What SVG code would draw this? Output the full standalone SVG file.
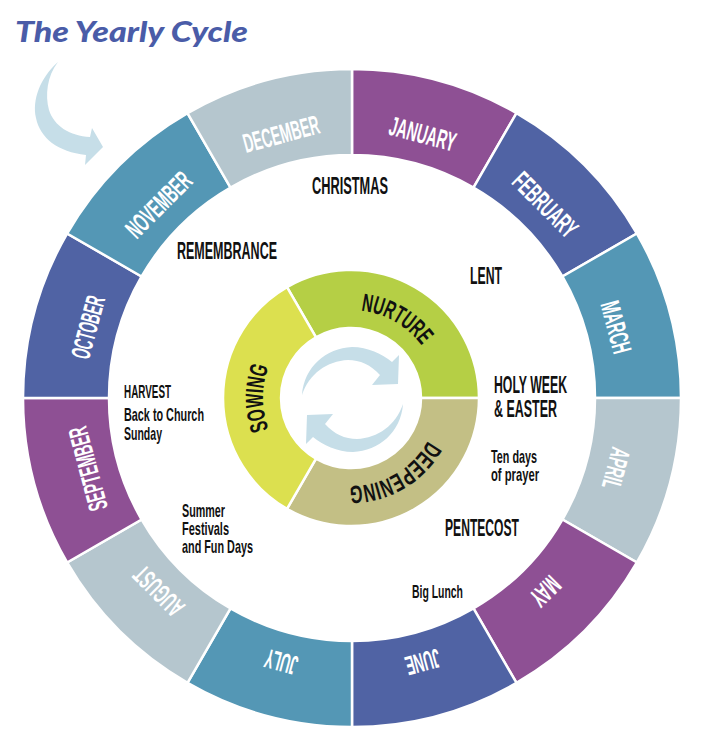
<svg xmlns="http://www.w3.org/2000/svg" width="711" height="750" viewBox="0 0 711 750">
<style>
.seg{stroke:#fff;stroke-width:2.5}
.c1{fill:#8e5094}.c2{fill:#5063a4}.c3{fill:#5497b5}.c4{fill:#b5c6ce}
.mon{font-family:"Liberation Sans Narrow","Liberation Sans",Arial,sans-serif;font-weight:bold;font-size:27px;fill:#fff;text-anchor:middle}
.ph{font-family:"Liberation Sans Narrow","Liberation Sans",Arial,sans-serif;font-weight:bold;font-size:25px;fill:#111;text-anchor:middle}
.ev{font-family:"Liberation Sans Narrow","Liberation Sans",Arial,sans-serif;font-weight:bold;font-size:23px;fill:#111}
.sm{font-family:"Liberation Sans Narrow","Liberation Sans",Arial,sans-serif;font-weight:bold;font-size:19px;fill:#111}
.arr{fill:#c6dee8}
</style>
<defs>
<path id="ring" d="M 351,310 A 88 88 0 1 1 351,486 A 88 88 0 1 1 351,310"/>
</defs>
<rect width="711" height="750" fill="#fff"/>

<g id="title">
<text x="15" y="42" font-family="Lato,'Open Sans',sans-serif" font-weight="900" font-style="italic" font-size="29" fill="#4a5ca8" textLength="233" lengthAdjust="spacingAndGlyphs">The Yearly Cycle</text>
</g>

<g id="connectors">
<path class="arr" d="M 58,62 C 40,78 32,100 36,118 C 40,138 58,152 86,155 L 85,165 L 103,147 L 92,128 L 90,137 C 70,136 54,126 49,110 C 45,95 47,76 58,62 Z"/>
<path class="arr" d="M 302,395 C 304,367 326,348 352,347 C 368,347 382,354 392,362 L 399,355 L 398,384 L 372,385 L 380,375 C 371,365 360,360 348,360 C 327,361 309,374 302,395 Z"/>
<path class="arr" transform="rotate(180 352.5 399.5)" d="M 302,395 C 304,367 326,348 352,347 C 368,347 382,354 392,362 L 399,355 L 398,384 L 372,385 L 380,375 C 371,365 360,360 348,360 C 327,361 309,374 302,395 Z"/>
</g>

<g id="january"><path class="seg c1" d="M 352,69 A 329 329 0 0 1 516.5,113.1 L 473.5,187.6 A 243 243 0 0 0 352,155 Z"/><text class="mon" x="352" y="134" transform="rotate(15 352 398)" textLength="68" lengthAdjust="spacingAndGlyphs">JANUARY</text></g>
<g id="february"><path class="seg c2" d="M 516.5,113.1 A 329 329 0 0 1 636.9,233.5 L 562.4,276.5 A 243 243 0 0 0 473.5,187.6 Z"/><text class="mon" x="352" y="134" transform="rotate(45 352 398)" textLength="80" lengthAdjust="spacingAndGlyphs">FEBRUARY</text></g>
<g id="march"><path class="seg c3" d="M 636.9,233.5 A 329 329 0 0 1 681,398 L 595,398 A 243 243 0 0 0 562.4,276.5 Z"/><text class="mon" x="352" y="134" transform="rotate(75 352 398)" textLength="53" lengthAdjust="spacingAndGlyphs">MARCH</text></g>
<g id="april"><path class="seg c4" d="M 681,398 A 329 329 0 0 1 636.9,562.5 L 562.4,519.5 A 243 243 0 0 0 595,398 Z"/><text class="mon" x="352" y="134" transform="rotate(105 352 398)" textLength="42" lengthAdjust="spacingAndGlyphs">APRIL</text></g>
<g id="may"><path class="seg c1" d="M 636.9,562.5 A 329 329 0 0 1 516.5,682.9 L 473.5,608.4 A 243 243 0 0 0 562.4,519.5 Z"/><text class="mon" x="352" y="134" transform="rotate(135 352 398)" textLength="31" lengthAdjust="spacingAndGlyphs">MAY</text></g>
<g id="june"><path class="seg c2" d="M 516.5,682.9 A 329 329 0 0 1 352,727 L 352,641 A 243 243 0 0 0 473.5,608.4 Z"/><text class="mon" x="352" y="134" transform="rotate(165 352 398)" textLength="35" lengthAdjust="spacingAndGlyphs">JUNE</text></g>
<g id="july"><path class="seg c3" d="M 352,727 A 329 329 0 0 1 187.5,682.9 L 230.5,608.4 A 243 243 0 0 0 352,641 Z"/><text class="mon" x="352" y="134" transform="rotate(195 352 398)" textLength="33" lengthAdjust="spacingAndGlyphs">JULY</text></g>
<g id="august"><path class="seg c4" d="M 187.5,682.9 A 329 329 0 0 1 67.1,562.5 L 141.6,519.5 A 243 243 0 0 0 230.5,608.4 Z"/><text class="mon" x="352" y="134" transform="rotate(225 352 398)" textLength="59" lengthAdjust="spacingAndGlyphs">AUGUST</text></g>
<g id="september"><path class="seg c1" d="M 67.1,562.5 A 329 329 0 0 1 23,398 L 109,398 A 243 243 0 0 0 141.6,519.5 Z"/><text class="mon" x="352" y="134" transform="rotate(255 352 398)" textLength="86" lengthAdjust="spacingAndGlyphs">SEPTEMBER</text></g>
<g id="october"><path class="seg c2" d="M 23,398 A 329 329 0 0 1 67.1,233.5 L 141.6,276.5 A 243 243 0 0 0 109,398 Z"/><text class="mon" x="352" y="134" transform="rotate(285 352 398)" textLength="64" lengthAdjust="spacingAndGlyphs">OCTOBER</text></g>
<g id="november"><path class="seg c3" d="M 67.1,233.5 A 329 329 0 0 1 187.5,113.1 L 230.5,187.6 A 243 243 0 0 0 141.6,276.5 Z"/><text class="mon" x="352" y="134" transform="rotate(315 352 398)" textLength="81" lengthAdjust="spacingAndGlyphs">NOVEMBER</text></g>
<g id="december"><path class="seg c4" d="M 187.5,113.1 A 329 329 0 0 1 352,69 L 352,155 A 243 243 0 0 0 230.5,187.6 Z"/><text class="mon" x="352" y="134" transform="rotate(345 352 398)" textLength="78" lengthAdjust="spacingAndGlyphs">DECEMBER</text></g>

<g id="nurture"><path class="seg" fill="#b5cf45" stroke-width="3" d="M 287,287.15 A 128 128 0 0 1 479,398 L 421,398 A 70 70 0 0 0 316,337.4 Z"/><text class="ph"><textPath href="#ring" startOffset="8.333%" textLength="72" lengthAdjust="spacingAndGlyphs">NURTURE</textPath></text></g>
<g id="deepening"><path class="seg" fill="#c3bf85" stroke-width="3" d="M 479,398 A 128 128 0 0 1 287,508.85 L 316,458.6 A 70 70 0 0 0 421,398 Z"/><text class="ph"><textPath href="#ring" startOffset="41.667%" textLength="95" lengthAdjust="spacingAndGlyphs">DEEPENING</textPath></text></g>
<g id="sowing"><path class="seg" fill="#dce04f" stroke-width="3" d="M 287,508.85 A 128 128 0 0 1 287,287.15 L 316,337.4 A 70 70 0 0 0 316,458.6 Z"/><text class="ph"><textPath href="#ring" startOffset="75%" textLength="64" lengthAdjust="spacingAndGlyphs">SOWING</textPath></text></g>

<g id="christmas"><text class="ev" x="312" y="194" textLength="76" lengthAdjust="spacingAndGlyphs">CHRISTMAS</text></g>
<g id="remembrance"><text class="ev" x="177" y="259" textLength="100" lengthAdjust="spacingAndGlyphs">REMEMBRANCE</text></g>
<g id="lent"><text class="ev" x="470" y="284" textLength="32" lengthAdjust="spacingAndGlyphs">LENT</text></g>
<g id="holy-week"><text class="ev" x="494" y="393" textLength="73" lengthAdjust="spacingAndGlyphs">HOLY WEEK</text><text class="ev" x="494" y="417" textLength="63" lengthAdjust="spacingAndGlyphs">&amp; EASTER</text></g>
<g id="ten-days"><text class="sm" x="491" y="463" textLength="46" lengthAdjust="spacingAndGlyphs">Ten days</text><text class="sm" x="491" y="481" textLength="48" lengthAdjust="spacingAndGlyphs">of prayer</text></g>
<g id="pentecost"><text class="ev" x="445" y="536" textLength="74" lengthAdjust="spacingAndGlyphs">PENTECOST</text></g>
<g id="big-lunch"><text class="sm" x="412" y="598" textLength="51" lengthAdjust="spacingAndGlyphs">Big Lunch</text></g>
<g id="harvest"><text class="sm" x="124" y="398" textLength="47" lengthAdjust="spacingAndGlyphs">HARVEST</text><text class="sm" x="124" y="421" textLength="80" lengthAdjust="spacingAndGlyphs">Back to Church</text><text class="sm" x="124" y="440" textLength="38" lengthAdjust="spacingAndGlyphs">Sunday</text></g>
<g id="summer"><text class="sm" x="182" y="517" textLength="43" lengthAdjust="spacingAndGlyphs">Summer</text><text class="sm" x="182" y="535" textLength="47" lengthAdjust="spacingAndGlyphs">Festivals</text><text class="sm" x="182" y="553" textLength="71" lengthAdjust="spacingAndGlyphs">and Fun Days</text></g>
</svg>
